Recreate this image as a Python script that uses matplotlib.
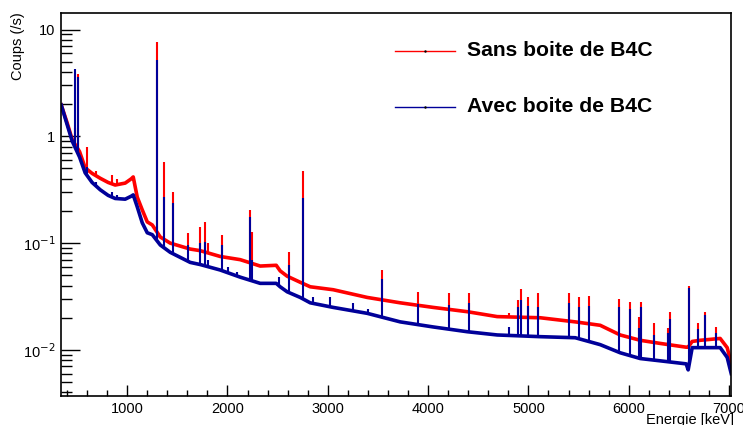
#! /usr/bin/env python3

import numpy as np
import matplotlib
matplotlib.use('Agg')
import matplotlib.pyplot as plt
from matplotlib.lines import Line2D
from matplotlib.ticker import FixedLocator, FixedFormatter, NullFormatter

plt.rcParams['font.family'] = ['Liberation Sans', 'DejaVu Sans']

# continuum (keV, coups/s)
energie = [342, 400, 452, 525, 581, 650, 731, 810, 880, 980, 1040, 1060, 1100,
           1150, 1200, 1250, 1330, 1429, 1628, 1728, 1927, 2127, 2326, 2486,
           2525, 2595, 2725, 2825, 3054, 3393, 3722, 4051, 4390, 4689, 5118,
           5467, 5716, 5915, 6115, 6314, 6573, 6593, 6633, 6713, 6912, 6982, 7022]
sans_b4c = [1.97, 1.35, 0.93, 0.72, 0.507, 0.45, 0.405, 0.37, 0.35, 0.365, 0.40,
            0.417, 0.27, 0.205, 0.158, 0.148, 0.114, 0.100, 0.088, 0.085, 0.075,
            0.070, 0.061, 0.062, 0.055, 0.049, 0.043, 0.039, 0.0366, 0.031,
            0.0276, 0.025, 0.0228, 0.0205, 0.020, 0.0183, 0.017, 0.0138, 0.0123,
            0.0115, 0.0106, 0.0106, 0.012, 0.0123, 0.0128, 0.0105, 0.0075]
avec_b4c = [1.97, 1.30, 0.90, 0.64, 0.455, 0.37, 0.316, 0.28, 0.262, 0.258,
            0.275, 0.283, 0.219, 0.155, 0.125, 0.120, 0.096, 0.082, 0.066,
            0.063, 0.056, 0.048, 0.042, 0.042, 0.039, 0.035, 0.031, 0.0276,
            0.025, 0.022, 0.0183, 0.0164, 0.0148, 0.0138, 0.0133, 0.013, 0.0112,
            0.0094, 0.0083, 0.0079, 0.0074, 0.0065, 0.0105, 0.0105, 0.0105,
            0.0085, 0.006]

# raies (keV) with peak heights for both spectra
raies = [478, 511, 596, 691, 847, 900, 1294, 1368, 1461, 1610, 1730, 1779,
         1808, 1947, 2007, 2097, 2223, 2247, 2516, 2614, 2754, 2854, 3024,
         3253, 3403, 3542, 3900, 4210, 4410, 4810, 4900, 4930, 4998, 5100,
         5407, 5507, 5607, 5905, 6015, 6105, 6125, 6254, 6394, 6414, 6603,
         6692, 6762, 6870]
pic_sans = [1.2, 3.85, 0.80, 0.47, 0.435, 0.40, 7.6, 0.58, 0.30, 0.125, 0.142,
            0.158, 0.10, 0.12, 0.075, 0.073, 0.205, 0.127, 0.058, 0.083, 0.47,
            0.040, 0.037, 0.033, 0.032, 0.056, 0.035, 0.034, 0.034, 0.022,
            0.0295, 0.037, 0.031, 0.034, 0.034, 0.031, 0.032, 0.030, 0.028,
            0.0205, 0.028, 0.018, 0.016, 0.0225, 0.040, 0.018, 0.0225, 0.0165]
pic_avec = [4.3, 3.6, 0.52, 0.37, 0.30, 0.28, 5.2, 0.27, 0.24, 0.097, 0.10,
            0.103, 0.07, 0.096, 0.06, 0.054, 0.177, 0.07, 0.048, 0.063, 0.265,
            0.031, 0.031, 0.0276, 0.024, 0.046, 0.027, 0.0266, 0.0275, 0.0164,
            0.025, 0.0295, 0.026, 0.025, 0.0275, 0.025, 0.026, 0.025, 0.024,
            0.016, 0.025, 0.0138, 0.0145, 0.0193, 0.038, 0.0158, 0.0212, 0.0145]

rouge = '#ff0000'
bleu = '#000099'

fig = plt.figure(figsize=(7.43, 4.25), dpi=100)
ax = fig.add_axes([61 / 743, 1 - 396 / 425, 670 / 743, 383 / 425])

for cont, pics, col in [(sans_b4c, pic_sans, rouge), (avec_b4c, pic_avec, bleu)]:
    ax.plot(energie, cont, color=col, lw=2.6, solid_joinstyle='round')
    base = np.interp(raies, energie, cont)
    ax.vlines(raies, base, pics, color=col, lw=1.5)

ax.set_yscale('log')
ax.set_xlim(340, 7020)
ax.set_ylim(0.0037, 14.3)

ax.xaxis.set_major_locator(FixedLocator([1000, 2000, 3000, 4000, 5000, 6000, 7000]))
ax.xaxis.set_minor_locator(FixedLocator(np.arange(400, 7001, 200)))
ax.xaxis.set_minor_formatter(NullFormatter())
ax.yaxis.set_major_locator(FixedLocator([0.01, 0.1, 1, 10]))
ax.yaxis.set_major_formatter(FixedFormatter(['10$^{-2}$', '10$^{-1}$', '1', '10']))
ax.yaxis.set_minor_locator(FixedLocator([k * 10.0 ** d for d in range(-3, 2) for k in range(2, 10)]))
ax.yaxis.set_minor_formatter(NullFormatter())

ax.tick_params(axis='x', which='major', direction='in', length=8, width=1, labelsize=10.5, pad=4,
               top=False)
ax.tick_params(axis='x', which='minor', direction='in', length=4, width=1, top=False)
ax.tick_params(axis='y', which='major', direction='in', length=14, width=1, labelsize=10.5, pad=4,
               right=False)
ax.tick_params(axis='y', which='minor', direction='in', length=8, width=1, right=False)
for s in ax.spines.values():
    s.set_linewidth(1.2)

fig.text(18 / 743, 1 - 12 / 425, 'Coups (/s)', rotation=90, ha='center', va='top', fontsize=10.5)
fig.text(734 / 743, 1 - 420 / 425, 'Energie [keV]', ha='right', va='center', fontsize=10.5)

# legende
for ypx, lab, col in [(51, 'Sans boite de B4C', rouge), (107, 'Avec boite de B4C', bleu)]:
    yy = 1 - ypx / 425
    fig.add_artist(Line2D([395 / 743, 455 / 743], [yy, yy], color=col, lw=1))
    fig.add_artist(Line2D([425 / 743], [yy], color='black', marker='.', ms=1.5, lw=0))
    fig.text(467 / 743, yy, lab, ha='left', va='center', fontsize=15.2, fontweight='bold')

fig.savefig('out.png', dpi=100)
